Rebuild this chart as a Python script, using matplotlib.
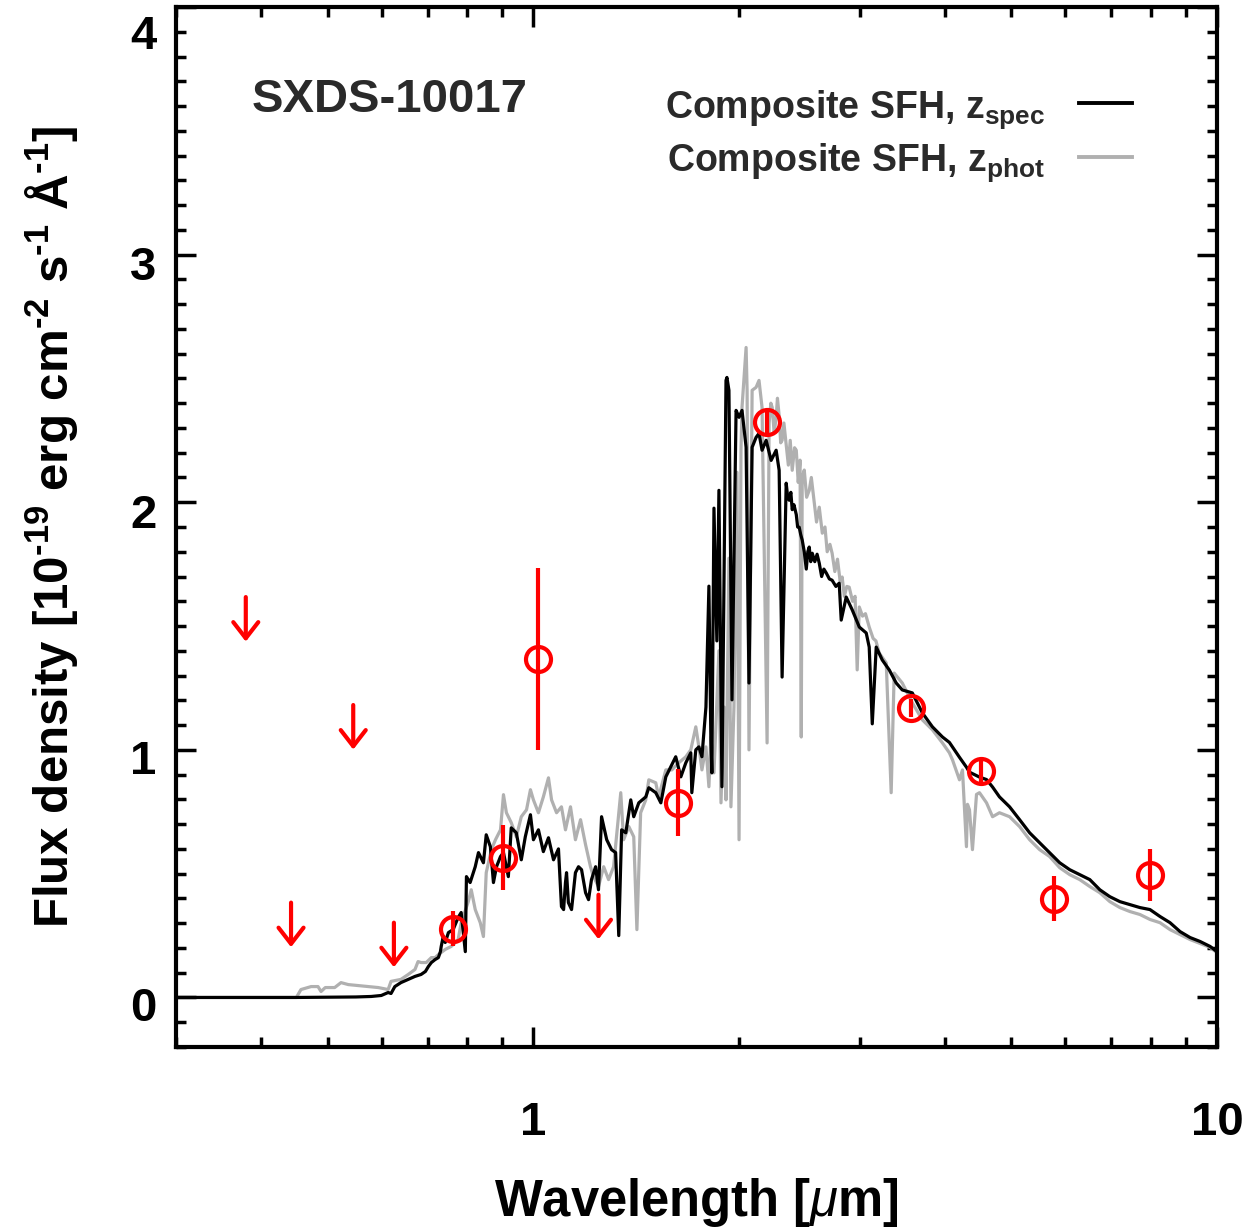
import numpy as np
import matplotlib
matplotlib.use('Agg')
import matplotlib.pyplot as plt
from matplotlib.ticker import MultipleLocator, LogLocator, NullFormatter
from matplotlib.transforms import ScaledTranslation

plt.rcParams['font.family'] = ['Liberation Sans', 'DejaVu Sans']
plt.rcParams['font.weight'] = 'bold'
plt.rcParams['axes.labelweight'] = 'bold'
plt.rcParams['mathtext.fontset'] = 'custom'
plt.rcParams['mathtext.rm'] = 'Liberation Sans:bold'
plt.rcParams['mathtext.bf'] = 'Liberation Sans:bold'
plt.rcParams['mathtext.sf'] = 'Liberation Sans:bold'
plt.rcParams['mathtext.it'] = 'Liberation Sans:italic:normal'

# model SED, composite SFH at z_spec (black)
spec_wave = [0.30, 0.45, 0.55, 0.579, 0.599, 0.613, 0.619, 0.627, 0.640, 0.656,
             0.671, 0.685, 0.695, 0.702, 0.709, 0.718, 0.726, 0.731, 0.733, 0.738,
             0.743, 0.751, 0.763, 0.776, 0.784, 0.795, 0.798, 0.808, 0.822, 0.831,
             0.845, 0.853, 0.865, 0.874, 0.883, 0.895, 0.904, 0.919, 0.928, 0.944,
             0.960, 0.973, 0.990, 1.000, 1.017, 1.034, 1.052, 1.070, 1.088, 1.099,
             1.107, 1.114, 1.118, 1.125, 1.137, 1.152, 1.164, 1.176, 1.192, 1.204,
             1.216, 1.233, 1.245, 1.258, 1.280, 1.301, 1.319, 1.333, 1.346, 1.365,
             1.388, 1.402, 1.426, 1.460, 1.475, 1.510, 1.536, 1.562, 1.588, 1.615,
             1.643, 1.671, 1.699, 1.705, 1.728, 1.746, 1.764, 1.788, 1.806, 1.818,
             1.824, 1.837, 1.855, 1.868, 1.887, 1.913, 1.919, 1.932, 1.952, 1.979,
             1.999, 2.019, 2.047, 2.067, 2.089, 2.117, 2.138, 2.160, 2.190, 2.227,
             2.265, 2.288, 2.311, 2.343, 2.355, 2.367, 2.380, 2.391, 2.405, 2.424,
             2.435, 2.448, 2.460, 2.473, 2.490, 2.507, 2.520, 2.532, 2.545, 2.558,
             2.580, 2.600, 2.619, 2.640, 2.660, 2.682, 2.710, 2.735, 2.770, 2.801,
             2.820, 2.868, 2.927, 2.997, 3.068, 3.099, 3.131, 3.173, 3.238, 3.315,
             3.394, 3.464, 3.583, 3.707, 3.834, 3.966, 4.060, 4.200, 4.300, 4.344,
             4.493, 4.601, 4.695, 4.806, 4.972, 5.143, 5.320, 5.502, 5.691, 5.887,
             6.089, 6.298, 6.515, 6.739, 6.970, 7.210, 7.457, 7.714, 7.979, 8.253,
             8.536, 8.830, 9.133, 9.447, 9.771, 10.0]
spec_flux = [0.000, 0.000, 0.002, 0.004, 0.008, 0.020, 0.016, 0.044, 0.060, 0.073,
             0.085, 0.093, 0.105, 0.125, 0.141, 0.153, 0.161, 0.185, 0.206, 0.246,
             0.222, 0.262, 0.274, 0.323, 0.343, 0.185, 0.488, 0.464, 0.528, 0.585,
             0.544, 0.657, 0.609, 0.464, 0.528, 0.569, 0.585, 0.488, 0.685, 0.665,
             0.556, 0.649, 0.738, 0.637, 0.677, 0.589, 0.645, 0.556, 0.600, 0.367,
             0.355, 0.464, 0.504, 0.383, 0.355, 0.504, 0.528, 0.516, 0.423, 0.395,
             0.476, 0.528, 0.435, 0.730, 0.637, 0.597, 0.585, 0.250, 0.677, 0.665,
             0.798, 0.730, 0.786, 0.810, 0.847, 0.827, 0.786, 0.891, 0.931, 0.972,
             0.891, 0.948, 0.988, 0.827, 1.000, 1.012, 0.972, 1.173, 1.661, 1.040,
             0.907, 1.976, 1.440, 2.048, 0.851, 2.492, 2.504, 2.452, 1.202, 2.371,
             2.343, 2.371, 2.222, 1.270, 2.222, 2.262, 2.278, 2.210, 2.250, 2.169,
             2.210, 2.129, 1.294, 2.077, 2.020, 2.008, 2.040, 1.970, 1.990, 1.950,
             1.900, 1.899, 1.870, 1.847, 1.800, 1.730, 1.800, 1.819, 1.760, 1.794,
             1.760, 1.790, 1.754, 1.700, 1.730, 1.714, 1.690, 1.685, 1.660, 1.673,
             1.524, 1.617, 1.565, 1.496, 1.472, 1.415, 1.105, 1.415, 1.363, 1.323,
             1.270, 1.242, 1.230, 1.149, 1.093, 1.052, 1.030, 0.970, 0.930, 0.910,
             0.890, 0.880, 0.850, 0.810, 0.770, 0.718, 0.665, 0.625, 0.585, 0.544,
             0.516, 0.496, 0.476, 0.435, 0.407, 0.387, 0.375, 0.363, 0.355, 0.327,
             0.302, 0.266, 0.242, 0.226, 0.206, 0.185]

# model SED, composite SFH at z_phot (grey)
phot_wave = [0.30, 0.45, 0.457, 0.473, 0.484, 0.489, 0.496, 0.512, 0.523, 0.536,
             0.554, 0.573, 0.593, 0.613, 0.619, 0.640, 0.656, 0.671, 0.678, 0.685,
             0.697, 0.709, 0.718, 0.726, 0.743, 0.758, 0.769, 0.776, 0.784, 0.803,
             0.811, 0.822, 0.836, 0.845, 0.853, 0.868, 0.880, 0.895, 0.904, 0.913,
             0.928, 0.944, 0.960, 0.977, 0.990, 1.000, 1.017, 1.034, 1.052, 1.063,
             1.081, 1.099, 1.114, 1.133, 1.152, 1.172, 1.192, 1.212, 1.224, 1.245,
             1.267, 1.288, 1.310, 1.342, 1.355, 1.379, 1.402, 1.417, 1.435, 1.460,
             1.475, 1.510, 1.525, 1.562, 1.594, 1.632, 1.671, 1.699, 1.728, 1.746,
             1.764, 1.788, 1.806, 1.818, 1.837, 1.868, 1.881, 1.900, 1.913, 1.932,
             1.945, 1.965, 1.985, 1.999, 2.012, 2.019, 2.047, 2.054, 2.067, 2.089,
             2.117, 2.138, 2.160, 2.197, 2.212, 2.225, 2.235, 2.250, 2.265, 2.275,
             2.288, 2.300, 2.311, 2.325, 2.343, 2.360, 2.375, 2.391, 2.410, 2.424,
             2.440, 2.455, 2.465, 2.473, 2.490, 2.510, 2.532, 2.550, 2.575, 2.595,
             2.619, 2.646, 2.670, 2.690, 2.715, 2.735, 2.760, 2.785, 2.810, 2.829,
             2.850, 2.874, 2.897, 2.930, 2.955, 2.976, 2.997, 3.030, 3.060, 3.099,
             3.140, 3.170, 3.205, 3.282, 3.337, 3.371, 3.464, 3.583, 3.707, 3.834,
             3.966, 4.060, 4.102, 4.200, 4.243, 4.300, 4.315, 4.344, 4.388, 4.448,
             4.493, 4.601, 4.695, 4.806, 4.972, 5.143, 5.320, 5.502, 5.691, 5.887,
             6.089, 6.298, 6.515, 6.739, 6.970, 7.210, 7.457, 7.714, 7.979, 8.253,
             8.536, 8.830, 9.133, 9.447, 9.771, 10.0]
phot_flux = [0.000, 0.000, 0.032, 0.044, 0.044, 0.024, 0.040, 0.040, 0.060, 0.052,
             0.048, 0.044, 0.040, 0.032, 0.065, 0.073, 0.093, 0.113, 0.145, 0.141,
             0.141, 0.161, 0.161, 0.173, 0.194, 0.206, 0.222, 0.234, 0.302, 0.387,
             0.435, 0.355, 0.302, 0.246, 0.504, 0.597, 0.637, 0.677, 0.819, 0.746,
             0.706, 0.649, 0.730, 0.758, 0.839, 0.798, 0.746, 0.810, 0.887, 0.798,
             0.746, 0.770, 0.677, 0.770, 0.637, 0.718, 0.617, 0.528, 0.488, 0.448,
             0.528, 0.476, 0.528, 0.827, 0.637, 0.690, 0.649, 0.274, 0.746, 0.798,
             0.879, 0.867, 0.810, 0.919, 0.919, 0.948, 0.972, 1.000, 1.093, 1.012,
             0.919, 1.012, 0.851, 1.052, 0.907, 1.400, 0.786, 1.173, 0.798, 1.774,
             0.770, 1.173, 2.121, 0.637, 2.210, 2.383, 2.625, 2.452, 1.000, 2.452,
             2.464, 2.492, 2.383, 1.028, 2.319, 2.400, 2.383, 2.280, 2.343, 2.420,
             2.350, 2.240, 2.250, 2.320, 2.230, 2.150, 2.250, 2.129, 2.220, 2.210,
             2.080, 2.170, 1.052, 2.101, 2.130, 2.020, 2.048, 2.100, 2.000, 1.920,
             1.980, 1.875, 1.900, 1.800, 1.830, 1.794, 1.720, 1.770, 1.680, 1.698,
             1.620, 1.660, 1.657, 1.600, 1.620, 1.323, 1.577, 1.540, 1.550, 1.496,
             1.450, 1.440, 1.391, 1.351, 0.827, 1.310, 1.270, 1.190, 1.121, 1.081,
             1.028, 0.988, 0.960, 0.879, 0.919, 0.609, 0.780, 0.758, 0.597, 0.820,
             0.827, 0.786, 0.730, 0.746, 0.730, 0.690, 0.637, 0.597, 0.569, 0.524,
             0.496, 0.476, 0.448, 0.423, 0.387, 0.363, 0.347, 0.335, 0.315, 0.302,
             0.274, 0.254, 0.234, 0.218, 0.202, 0.181]

# photometry: detections
det_wave = [0.763, 0.904, 1.017, 1.626, 2.196, 3.570, 4.510, 5.770, 7.980]
det_flux = [0.278, 0.565, 1.367, 0.786, 2.323, 1.169, 0.915, 0.399, 0.496]
det_err = [0.070, 0.130, 0.367, 0.135, 0.043, 0.035, 0.045, 0.090, 0.105]

# photometry: upper limits
ul_wave = [0.3795, 0.442, 0.545, 0.625, 1.245]
ul_flux = [1.617, 0.383, 1.181, 0.302, 0.415]
arrow_len = 0.18

fig = plt.figure(figsize=(12.5, 12.29), dpi=100)
ax = fig.add_axes([0.1408, 0.1481, 0.8328, 0.8462])

ax.plot(phot_wave, phot_flux, color='#b0b0b0', lw=2.3, zorder=2)
ax.plot(spec_wave, spec_flux, color='black', lw=2.3, zorder=3)

ax.errorbar(det_wave, det_flux, yerr=det_err, fmt='o', mfc='none', mec='red',
            ecolor='red', ms=18, mew=3, elinewidth=3, capsize=0, zorder=5)

for w, f in zip(ul_wave, ul_flux):
    ax.annotate('', xy=(w, f - arrow_len), xytext=(w, f),
                arrowprops=dict(arrowstyle='->,head_length=0.58,head_width=0.45',
                                color='red', lw=3, shrinkA=0, shrinkB=0,
                                mutation_scale=20), zorder=5)

ax.set_xscale('log')
ax.set_xlim(0.3, 10)
ax.set_ylim(-0.2, 4.0)
ax.set_xticks([1, 10], ['1', '10'])
ax.xaxis.set_minor_locator(LogLocator(base=10, subs=np.arange(2, 10)))
ax.xaxis.set_minor_formatter(NullFormatter())
ax.set_yticks([0, 1, 2, 3, 4], ['0', '1', '2', '3', '4'])
ax.yaxis.set_minor_locator(MultipleLocator(0.1))
ax.tick_params(which='both', direction='in', top=True, right=True, width=2.5)
ax.tick_params(which='major', length=14.5)
ax.tick_params(which='minor', length=7.2)
ax.tick_params(axis='x', which='major', labelsize=34, pad=39)
ax.tick_params(axis='y', which='major', labelsize=34, pad=14)
for s in ax.spines.values():
    s.set_linewidth(3)

shifts = [-5, -5, -6, -6, -18]
for lab, dy in zip(ax.get_yticklabels(), shifts):
    lab.set_transform(lab.get_transform() + ScaledTranslation(0, dy / 72, fig.dpi_scale_trans))

hy = '\u2010'
ax.set_xlabel(r'Wavelength [$\mu$m]', fontsize=36.5, fontweight='bold')
ax.xaxis.set_label_coords(0.5, -0.124)
ax.set_ylabel('Flux density [10$^{' + hy + '19}$ erg cm$^{' + hy + '2}$ s$^{' + hy
              + '1}$ Å$^{' + hy + '1}$]', fontsize=35.5, fontweight='bold')
ax.yaxis.set_label_coords(-0.092, 0.5)

txtc = '#2a2a2a'
ax.text(0.073, 0.899, 'SXDS-10017', transform=ax.transAxes, fontsize=34,
        color=txtc, va='baseline')
ax.text(0.8348, 0.8933, r'Composite SFH, z$_{\rm spec}$', transform=ax.transAxes,
        fontsize=27, color=txtc, ha='right', va='baseline')
ax.text(0.8348, 0.8423, r'Composite SFH, z$_{\rm phot}$', transform=ax.transAxes,
        fontsize=27, color=txtc, ha='right', va='baseline')
ax.plot([0.8674, 0.9183], [0.9077, 0.9077], transform=ax.transAxes, color='black', lw=2.8)
ax.plot([0.8674, 0.9183], [0.8558, 0.8558], transform=ax.transAxes, color='#b0b0b0', lw=2.8)

fig.savefig('out.png', dpi=100)
